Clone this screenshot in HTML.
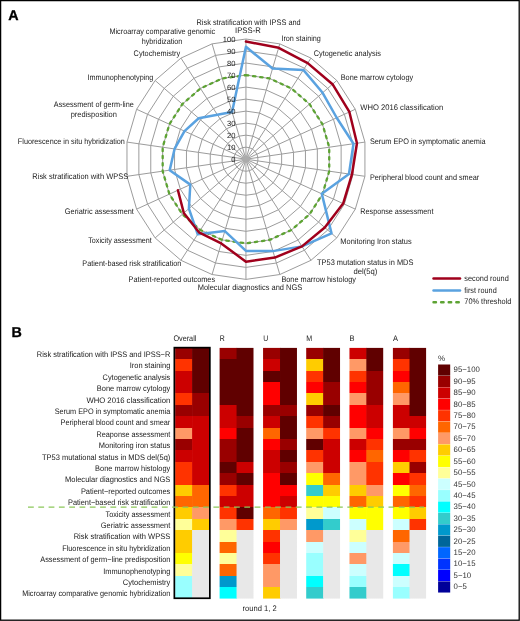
<!DOCTYPE html>
<html><head><meta charset="utf-8"><style>
html,body{margin:0;padding:0;background:#fff;}
body{width:520px;height:621px;overflow:hidden;}
svg{display:block;will-change:transform;}
text{font-family:"Liberation Sans",sans-serif;fill:#1a1a1a;text-rendering:geometricPrecision;}
.l{font-size:8.1px;}
.s{font-size:7.6px;}
.h{font-size:8.0px;}
.k{font-size:8.0px;fill:#333;}
.p{font-size:14.3px;font-weight:bold;fill:#000;stroke:#000;stroke-width:0.3px;}
</style></head><body>
<svg width="520" height="621" viewBox="0 0 520 621">
<defs><linearGradient id="g00" x1="0" y1="0" x2="0" y2="1"><stop offset="0.00000" stop-color="#990000"/><stop offset="0.04545" stop-color="#990000"/><stop offset="0.04545" stop-color="#ff3300"/><stop offset="0.09091" stop-color="#ff3300"/><stop offset="0.09091" stop-color="#cc0000"/><stop offset="0.13636" stop-color="#cc0000"/><stop offset="0.13636" stop-color="#cc0000"/><stop offset="0.18182" stop-color="#cc0000"/><stop offset="0.18182" stop-color="#ff3300"/><stop offset="0.22727" stop-color="#ff3300"/><stop offset="0.22727" stop-color="#990000"/><stop offset="0.27273" stop-color="#990000"/><stop offset="0.27273" stop-color="#cc0000"/><stop offset="0.31818" stop-color="#cc0000"/><stop offset="0.31818" stop-color="#ff9966"/><stop offset="0.36364" stop-color="#ff9966"/><stop offset="0.36364" stop-color="#990000"/><stop offset="0.40909" stop-color="#990000"/><stop offset="0.40909" stop-color="#cc0000"/><stop offset="0.45455" stop-color="#cc0000"/><stop offset="0.45455" stop-color="#ff3300"/><stop offset="0.50000" stop-color="#ff3300"/><stop offset="0.50000" stop-color="#ff3300"/><stop offset="0.54545" stop-color="#ff3300"/><stop offset="0.54545" stop-color="#ffcc00"/><stop offset="0.59091" stop-color="#ffcc00"/><stop offset="0.59091" stop-color="#ff6600"/><stop offset="0.63636" stop-color="#ff6600"/><stop offset="0.63636" stop-color="#ffcc00"/><stop offset="0.68182" stop-color="#ffcc00"/><stop offset="0.68182" stop-color="#ffff99"/><stop offset="0.72727" stop-color="#ffff99"/><stop offset="0.72727" stop-color="#ffcc00"/><stop offset="0.77273" stop-color="#ffcc00"/><stop offset="0.77273" stop-color="#ffcc00"/><stop offset="0.81818" stop-color="#ffcc00"/><stop offset="0.81818" stop-color="#ffff00"/><stop offset="0.86364" stop-color="#ffff00"/><stop offset="0.86364" stop-color="#ffff99"/><stop offset="0.90909" stop-color="#ffff99"/><stop offset="0.90909" stop-color="#99ffff"/><stop offset="0.95455" stop-color="#99ffff"/><stop offset="0.95455" stop-color="#99ffff"/><stop offset="1.00000" stop-color="#99ffff"/></linearGradient><linearGradient id="g01" x1="0" y1="0" x2="0" y2="1"><stop offset="0.00000" stop-color="#600000"/><stop offset="0.04545" stop-color="#600000"/><stop offset="0.04545" stop-color="#600000"/><stop offset="0.09091" stop-color="#600000"/><stop offset="0.09091" stop-color="#600000"/><stop offset="0.13636" stop-color="#600000"/><stop offset="0.13636" stop-color="#600000"/><stop offset="0.18182" stop-color="#600000"/><stop offset="0.18182" stop-color="#990000"/><stop offset="0.22727" stop-color="#990000"/><stop offset="0.22727" stop-color="#990000"/><stop offset="0.27273" stop-color="#990000"/><stop offset="0.27273" stop-color="#cc0000"/><stop offset="0.31818" stop-color="#cc0000"/><stop offset="0.31818" stop-color="#cc0000"/><stop offset="0.36364" stop-color="#cc0000"/><stop offset="0.36364" stop-color="#cc0000"/><stop offset="0.40909" stop-color="#cc0000"/><stop offset="0.40909" stop-color="#cc0000"/><stop offset="0.45455" stop-color="#cc0000"/><stop offset="0.45455" stop-color="#cc0000"/><stop offset="0.50000" stop-color="#cc0000"/><stop offset="0.50000" stop-color="#cc0000"/><stop offset="0.54545" stop-color="#cc0000"/><stop offset="0.54545" stop-color="#ff6600"/><stop offset="0.59091" stop-color="#ff6600"/><stop offset="0.59091" stop-color="#ff6600"/><stop offset="0.63636" stop-color="#ff6600"/><stop offset="0.63636" stop-color="#ff9966"/><stop offset="0.68182" stop-color="#ff9966"/><stop offset="0.68182" stop-color="#ffcc00"/><stop offset="0.72727" stop-color="#ffcc00"/><stop offset="0.72727" stop-color="#e8e8e8"/><stop offset="0.77273" stop-color="#e8e8e8"/><stop offset="0.77273" stop-color="#e8e8e8"/><stop offset="0.81818" stop-color="#e8e8e8"/><stop offset="0.81818" stop-color="#e8e8e8"/><stop offset="0.86364" stop-color="#e8e8e8"/><stop offset="0.86364" stop-color="#e8e8e8"/><stop offset="0.90909" stop-color="#e8e8e8"/><stop offset="0.90909" stop-color="#e8e8e8"/><stop offset="0.95455" stop-color="#e8e8e8"/><stop offset="0.95455" stop-color="#e8e8e8"/><stop offset="1.00000" stop-color="#e8e8e8"/></linearGradient><linearGradient id="g10" x1="0" y1="0" x2="0" y2="1"><stop offset="0.00000" stop-color="#990000"/><stop offset="0.04545" stop-color="#990000"/><stop offset="0.04545" stop-color="#600000"/><stop offset="0.09091" stop-color="#600000"/><stop offset="0.09091" stop-color="#600000"/><stop offset="0.13636" stop-color="#600000"/><stop offset="0.13636" stop-color="#600000"/><stop offset="0.18182" stop-color="#600000"/><stop offset="0.18182" stop-color="#600000"/><stop offset="0.22727" stop-color="#600000"/><stop offset="0.22727" stop-color="#cc0000"/><stop offset="0.27273" stop-color="#cc0000"/><stop offset="0.27273" stop-color="#cc0000"/><stop offset="0.31818" stop-color="#cc0000"/><stop offset="0.31818" stop-color="#ff0000"/><stop offset="0.36364" stop-color="#ff0000"/><stop offset="0.36364" stop-color="#990000"/><stop offset="0.40909" stop-color="#990000"/><stop offset="0.40909" stop-color="#990000"/><stop offset="0.45455" stop-color="#990000"/><stop offset="0.45455" stop-color="#600000"/><stop offset="0.50000" stop-color="#600000"/><stop offset="0.50000" stop-color="#990000"/><stop offset="0.54545" stop-color="#990000"/><stop offset="0.54545" stop-color="#ff3300"/><stop offset="0.59091" stop-color="#ff3300"/><stop offset="0.59091" stop-color="#cc0000"/><stop offset="0.63636" stop-color="#cc0000"/><stop offset="0.63636" stop-color="#ff3300"/><stop offset="0.68182" stop-color="#ff3300"/><stop offset="0.68182" stop-color="#ff9966"/><stop offset="0.72727" stop-color="#ff9966"/><stop offset="0.72727" stop-color="#ffff99"/><stop offset="0.77273" stop-color="#ffff99"/><stop offset="0.77273" stop-color="#ff6600"/><stop offset="0.81818" stop-color="#ff6600"/><stop offset="0.81818" stop-color="#ffff99"/><stop offset="0.86364" stop-color="#ffff99"/><stop offset="0.86364" stop-color="#ff6600"/><stop offset="0.90909" stop-color="#ff6600"/><stop offset="0.90909" stop-color="#0099cc"/><stop offset="0.95455" stop-color="#0099cc"/><stop offset="0.95455" stop-color="#00ffff"/><stop offset="1.00000" stop-color="#00ffff"/></linearGradient><linearGradient id="g11" x1="0" y1="0" x2="0" y2="1"><stop offset="0.00000" stop-color="#600000"/><stop offset="0.04545" stop-color="#600000"/><stop offset="0.04545" stop-color="#600000"/><stop offset="0.09091" stop-color="#600000"/><stop offset="0.09091" stop-color="#600000"/><stop offset="0.13636" stop-color="#600000"/><stop offset="0.13636" stop-color="#600000"/><stop offset="0.18182" stop-color="#600000"/><stop offset="0.18182" stop-color="#600000"/><stop offset="0.22727" stop-color="#600000"/><stop offset="0.22727" stop-color="#600000"/><stop offset="0.27273" stop-color="#600000"/><stop offset="0.27273" stop-color="#990000"/><stop offset="0.31818" stop-color="#990000"/><stop offset="0.31818" stop-color="#600000"/><stop offset="0.36364" stop-color="#600000"/><stop offset="0.36364" stop-color="#600000"/><stop offset="0.40909" stop-color="#600000"/><stop offset="0.40909" stop-color="#600000"/><stop offset="0.45455" stop-color="#600000"/><stop offset="0.45455" stop-color="#cc0000"/><stop offset="0.50000" stop-color="#cc0000"/><stop offset="0.50000" stop-color="#600000"/><stop offset="0.54545" stop-color="#600000"/><stop offset="0.54545" stop-color="#cc0000"/><stop offset="0.59091" stop-color="#cc0000"/><stop offset="0.59091" stop-color="#cc0000"/><stop offset="0.63636" stop-color="#cc0000"/><stop offset="0.63636" stop-color="#600000"/><stop offset="0.68182" stop-color="#600000"/><stop offset="0.68182" stop-color="#ff3300"/><stop offset="0.72727" stop-color="#ff3300"/><stop offset="0.72727" stop-color="#e8e8e8"/><stop offset="0.77273" stop-color="#e8e8e8"/><stop offset="0.77273" stop-color="#e8e8e8"/><stop offset="0.81818" stop-color="#e8e8e8"/><stop offset="0.81818" stop-color="#e8e8e8"/><stop offset="0.86364" stop-color="#e8e8e8"/><stop offset="0.86364" stop-color="#e8e8e8"/><stop offset="0.90909" stop-color="#e8e8e8"/><stop offset="0.90909" stop-color="#e8e8e8"/><stop offset="0.95455" stop-color="#e8e8e8"/><stop offset="0.95455" stop-color="#e8e8e8"/><stop offset="1.00000" stop-color="#e8e8e8"/></linearGradient><linearGradient id="g20" x1="0" y1="0" x2="0" y2="1"><stop offset="0.00000" stop-color="#990000"/><stop offset="0.04545" stop-color="#990000"/><stop offset="0.04545" stop-color="#cc0000"/><stop offset="0.09091" stop-color="#cc0000"/><stop offset="0.09091" stop-color="#600000"/><stop offset="0.13636" stop-color="#600000"/><stop offset="0.13636" stop-color="#ff0000"/><stop offset="0.18182" stop-color="#ff0000"/><stop offset="0.18182" stop-color="#ff0000"/><stop offset="0.22727" stop-color="#ff0000"/><stop offset="0.22727" stop-color="#990000"/><stop offset="0.27273" stop-color="#990000"/><stop offset="0.27273" stop-color="#cc0000"/><stop offset="0.31818" stop-color="#cc0000"/><stop offset="0.31818" stop-color="#ff6600"/><stop offset="0.36364" stop-color="#ff6600"/><stop offset="0.36364" stop-color="#ff0000"/><stop offset="0.40909" stop-color="#ff0000"/><stop offset="0.40909" stop-color="#cc0000"/><stop offset="0.45455" stop-color="#cc0000"/><stop offset="0.45455" stop-color="#cc0000"/><stop offset="0.50000" stop-color="#cc0000"/><stop offset="0.50000" stop-color="#ff0000"/><stop offset="0.54545" stop-color="#ff0000"/><stop offset="0.54545" stop-color="#ff0000"/><stop offset="0.59091" stop-color="#ff0000"/><stop offset="0.59091" stop-color="#ff0000"/><stop offset="0.63636" stop-color="#ff0000"/><stop offset="0.63636" stop-color="#ff6600"/><stop offset="0.68182" stop-color="#ff6600"/><stop offset="0.68182" stop-color="#ffcc00"/><stop offset="0.72727" stop-color="#ffcc00"/><stop offset="0.72727" stop-color="#ff3300"/><stop offset="0.77273" stop-color="#ff3300"/><stop offset="0.77273" stop-color="#ff0000"/><stop offset="0.81818" stop-color="#ff0000"/><stop offset="0.81818" stop-color="#ff3300"/><stop offset="0.86364" stop-color="#ff3300"/><stop offset="0.86364" stop-color="#ff9966"/><stop offset="0.90909" stop-color="#ff9966"/><stop offset="0.90909" stop-color="#ff9966"/><stop offset="0.95455" stop-color="#ff9966"/><stop offset="0.95455" stop-color="#ffcc00"/><stop offset="1.00000" stop-color="#ffcc00"/></linearGradient><linearGradient id="g21" x1="0" y1="0" x2="0" y2="1"><stop offset="0.00000" stop-color="#600000"/><stop offset="0.04545" stop-color="#600000"/><stop offset="0.04545" stop-color="#600000"/><stop offset="0.09091" stop-color="#600000"/><stop offset="0.09091" stop-color="#600000"/><stop offset="0.13636" stop-color="#600000"/><stop offset="0.13636" stop-color="#600000"/><stop offset="0.18182" stop-color="#600000"/><stop offset="0.18182" stop-color="#600000"/><stop offset="0.22727" stop-color="#600000"/><stop offset="0.22727" stop-color="#990000"/><stop offset="0.27273" stop-color="#990000"/><stop offset="0.27273" stop-color="#600000"/><stop offset="0.31818" stop-color="#600000"/><stop offset="0.31818" stop-color="#600000"/><stop offset="0.36364" stop-color="#600000"/><stop offset="0.36364" stop-color="#990000"/><stop offset="0.40909" stop-color="#990000"/><stop offset="0.40909" stop-color="#600000"/><stop offset="0.45455" stop-color="#600000"/><stop offset="0.45455" stop-color="#990000"/><stop offset="0.50000" stop-color="#990000"/><stop offset="0.50000" stop-color="#600000"/><stop offset="0.54545" stop-color="#600000"/><stop offset="0.54545" stop-color="#ff0000"/><stop offset="0.59091" stop-color="#ff0000"/><stop offset="0.59091" stop-color="#cc0000"/><stop offset="0.63636" stop-color="#cc0000"/><stop offset="0.63636" stop-color="#ff3300"/><stop offset="0.68182" stop-color="#ff3300"/><stop offset="0.68182" stop-color="#ff9966"/><stop offset="0.72727" stop-color="#ff9966"/><stop offset="0.72727" stop-color="#e8e8e8"/><stop offset="0.77273" stop-color="#e8e8e8"/><stop offset="0.77273" stop-color="#e8e8e8"/><stop offset="0.81818" stop-color="#e8e8e8"/><stop offset="0.81818" stop-color="#e8e8e8"/><stop offset="0.86364" stop-color="#e8e8e8"/><stop offset="0.86364" stop-color="#e8e8e8"/><stop offset="0.90909" stop-color="#e8e8e8"/><stop offset="0.90909" stop-color="#e8e8e8"/><stop offset="0.95455" stop-color="#e8e8e8"/><stop offset="0.95455" stop-color="#e8e8e8"/><stop offset="1.00000" stop-color="#e8e8e8"/></linearGradient><linearGradient id="g30" x1="0" y1="0" x2="0" y2="1"><stop offset="0.00000" stop-color="#990000"/><stop offset="0.04545" stop-color="#990000"/><stop offset="0.04545" stop-color="#ffcc00"/><stop offset="0.09091" stop-color="#ffcc00"/><stop offset="0.09091" stop-color="#ff3300"/><stop offset="0.13636" stop-color="#ff3300"/><stop offset="0.13636" stop-color="#ff0000"/><stop offset="0.18182" stop-color="#ff0000"/><stop offset="0.18182" stop-color="#ffcc00"/><stop offset="0.22727" stop-color="#ffcc00"/><stop offset="0.22727" stop-color="#990000"/><stop offset="0.27273" stop-color="#990000"/><stop offset="0.27273" stop-color="#ff3300"/><stop offset="0.31818" stop-color="#ff3300"/><stop offset="0.31818" stop-color="#ff9966"/><stop offset="0.36364" stop-color="#ff9966"/><stop offset="0.36364" stop-color="#600000"/><stop offset="0.40909" stop-color="#600000"/><stop offset="0.40909" stop-color="#ff3300"/><stop offset="0.45455" stop-color="#ff3300"/><stop offset="0.45455" stop-color="#ff9966"/><stop offset="0.50000" stop-color="#ff9966"/><stop offset="0.50000" stop-color="#ffff00"/><stop offset="0.54545" stop-color="#ffff00"/><stop offset="0.54545" stop-color="#33cccc"/><stop offset="0.59091" stop-color="#33cccc"/><stop offset="0.59091" stop-color="#ffff00"/><stop offset="0.63636" stop-color="#ffff00"/><stop offset="0.63636" stop-color="#ffff99"/><stop offset="0.68182" stop-color="#ffff99"/><stop offset="0.68182" stop-color="#0099cc"/><stop offset="0.72727" stop-color="#0099cc"/><stop offset="0.72727" stop-color="#ff9966"/><stop offset="0.77273" stop-color="#ff9966"/><stop offset="0.77273" stop-color="#ccffff"/><stop offset="0.81818" stop-color="#ccffff"/><stop offset="0.81818" stop-color="#99ffff"/><stop offset="0.86364" stop-color="#99ffff"/><stop offset="0.86364" stop-color="#99ffff"/><stop offset="0.90909" stop-color="#99ffff"/><stop offset="0.90909" stop-color="#00ffff"/><stop offset="0.95455" stop-color="#00ffff"/><stop offset="0.95455" stop-color="#33cccc"/><stop offset="1.00000" stop-color="#33cccc"/></linearGradient><linearGradient id="g31" x1="0" y1="0" x2="0" y2="1"><stop offset="0.00000" stop-color="#600000"/><stop offset="0.04545" stop-color="#600000"/><stop offset="0.04545" stop-color="#600000"/><stop offset="0.09091" stop-color="#600000"/><stop offset="0.09091" stop-color="#600000"/><stop offset="0.13636" stop-color="#600000"/><stop offset="0.13636" stop-color="#990000"/><stop offset="0.18182" stop-color="#990000"/><stop offset="0.18182" stop-color="#990000"/><stop offset="0.22727" stop-color="#990000"/><stop offset="0.22727" stop-color="#600000"/><stop offset="0.27273" stop-color="#600000"/><stop offset="0.27273" stop-color="#990000"/><stop offset="0.31818" stop-color="#990000"/><stop offset="0.31818" stop-color="#ff3300"/><stop offset="0.36364" stop-color="#ff3300"/><stop offset="0.36364" stop-color="#cc0000"/><stop offset="0.40909" stop-color="#cc0000"/><stop offset="0.40909" stop-color="#cc0000"/><stop offset="0.45455" stop-color="#cc0000"/><stop offset="0.45455" stop-color="#cc0000"/><stop offset="0.50000" stop-color="#cc0000"/><stop offset="0.50000" stop-color="#ff6600"/><stop offset="0.54545" stop-color="#ff6600"/><stop offset="0.54545" stop-color="#ffcc00"/><stop offset="0.59091" stop-color="#ffcc00"/><stop offset="0.59091" stop-color="#ffff00"/><stop offset="0.63636" stop-color="#ffff00"/><stop offset="0.63636" stop-color="#ccffff"/><stop offset="0.68182" stop-color="#ccffff"/><stop offset="0.68182" stop-color="#33cccc"/><stop offset="0.72727" stop-color="#33cccc"/><stop offset="0.72727" stop-color="#e8e8e8"/><stop offset="0.77273" stop-color="#e8e8e8"/><stop offset="0.77273" stop-color="#e8e8e8"/><stop offset="0.81818" stop-color="#e8e8e8"/><stop offset="0.81818" stop-color="#e8e8e8"/><stop offset="0.86364" stop-color="#e8e8e8"/><stop offset="0.86364" stop-color="#e8e8e8"/><stop offset="0.90909" stop-color="#e8e8e8"/><stop offset="0.90909" stop-color="#e8e8e8"/><stop offset="0.95455" stop-color="#e8e8e8"/><stop offset="0.95455" stop-color="#e8e8e8"/><stop offset="1.00000" stop-color="#e8e8e8"/></linearGradient><linearGradient id="g40" x1="0" y1="0" x2="0" y2="1"><stop offset="0.00000" stop-color="#cc0000"/><stop offset="0.04545" stop-color="#cc0000"/><stop offset="0.04545" stop-color="#ff9966"/><stop offset="0.09091" stop-color="#ff9966"/><stop offset="0.09091" stop-color="#ff3300"/><stop offset="0.13636" stop-color="#ff3300"/><stop offset="0.13636" stop-color="#ff0000"/><stop offset="0.18182" stop-color="#ff0000"/><stop offset="0.18182" stop-color="#ff9966"/><stop offset="0.22727" stop-color="#ff9966"/><stop offset="0.22727" stop-color="#ff0000"/><stop offset="0.27273" stop-color="#ff0000"/><stop offset="0.27273" stop-color="#ff0000"/><stop offset="0.31818" stop-color="#ff0000"/><stop offset="0.31818" stop-color="#ff9966"/><stop offset="0.36364" stop-color="#ff9966"/><stop offset="0.36364" stop-color="#cc0000"/><stop offset="0.40909" stop-color="#cc0000"/><stop offset="0.40909" stop-color="#ff0000"/><stop offset="0.45455" stop-color="#ff0000"/><stop offset="0.45455" stop-color="#ff9966"/><stop offset="0.50000" stop-color="#ff9966"/><stop offset="0.50000" stop-color="#ff9966"/><stop offset="0.54545" stop-color="#ff9966"/><stop offset="0.54545" stop-color="#ffcc00"/><stop offset="0.59091" stop-color="#ffcc00"/><stop offset="0.59091" stop-color="#ff6600"/><stop offset="0.63636" stop-color="#ff6600"/><stop offset="0.63636" stop-color="#ffff00"/><stop offset="0.68182" stop-color="#ffff00"/><stop offset="0.68182" stop-color="#ccffff"/><stop offset="0.72727" stop-color="#ccffff"/><stop offset="0.72727" stop-color="#ffff99"/><stop offset="0.77273" stop-color="#ffff99"/><stop offset="0.77273" stop-color="#ccffff"/><stop offset="0.81818" stop-color="#ccffff"/><stop offset="0.81818" stop-color="#ff9966"/><stop offset="0.86364" stop-color="#ff9966"/><stop offset="0.86364" stop-color="#ccffff"/><stop offset="0.90909" stop-color="#ccffff"/><stop offset="0.90909" stop-color="#99ffff"/><stop offset="0.95455" stop-color="#99ffff"/><stop offset="0.95455" stop-color="#33cccc"/><stop offset="1.00000" stop-color="#33cccc"/></linearGradient><linearGradient id="g41" x1="0" y1="0" x2="0" y2="1"><stop offset="0.00000" stop-color="#600000"/><stop offset="0.04545" stop-color="#600000"/><stop offset="0.04545" stop-color="#600000"/><stop offset="0.09091" stop-color="#600000"/><stop offset="0.09091" stop-color="#990000"/><stop offset="0.13636" stop-color="#990000"/><stop offset="0.13636" stop-color="#990000"/><stop offset="0.18182" stop-color="#990000"/><stop offset="0.18182" stop-color="#990000"/><stop offset="0.22727" stop-color="#990000"/><stop offset="0.22727" stop-color="#cc0000"/><stop offset="0.27273" stop-color="#cc0000"/><stop offset="0.27273" stop-color="#cc0000"/><stop offset="0.31818" stop-color="#cc0000"/><stop offset="0.31818" stop-color="#ff0000"/><stop offset="0.36364" stop-color="#ff0000"/><stop offset="0.36364" stop-color="#ff3300"/><stop offset="0.40909" stop-color="#ff3300"/><stop offset="0.40909" stop-color="#ff6600"/><stop offset="0.45455" stop-color="#ff6600"/><stop offset="0.45455" stop-color="#ff3300"/><stop offset="0.50000" stop-color="#ff3300"/><stop offset="0.50000" stop-color="#ff3300"/><stop offset="0.54545" stop-color="#ff3300"/><stop offset="0.54545" stop-color="#ff9966"/><stop offset="0.59091" stop-color="#ff9966"/><stop offset="0.59091" stop-color="#ffcc00"/><stop offset="0.63636" stop-color="#ffcc00"/><stop offset="0.63636" stop-color="#ffff00"/><stop offset="0.68182" stop-color="#ffff00"/><stop offset="0.68182" stop-color="#ffff00"/><stop offset="0.72727" stop-color="#ffff00"/><stop offset="0.72727" stop-color="#e8e8e8"/><stop offset="0.77273" stop-color="#e8e8e8"/><stop offset="0.77273" stop-color="#e8e8e8"/><stop offset="0.81818" stop-color="#e8e8e8"/><stop offset="0.81818" stop-color="#e8e8e8"/><stop offset="0.86364" stop-color="#e8e8e8"/><stop offset="0.86364" stop-color="#e8e8e8"/><stop offset="0.90909" stop-color="#e8e8e8"/><stop offset="0.90909" stop-color="#e8e8e8"/><stop offset="0.95455" stop-color="#e8e8e8"/><stop offset="0.95455" stop-color="#e8e8e8"/><stop offset="1.00000" stop-color="#e8e8e8"/></linearGradient><linearGradient id="g50" x1="0" y1="0" x2="0" y2="1"><stop offset="0.00000" stop-color="#990000"/><stop offset="0.04545" stop-color="#990000"/><stop offset="0.04545" stop-color="#ff3300"/><stop offset="0.09091" stop-color="#ff3300"/><stop offset="0.09091" stop-color="#ff0000"/><stop offset="0.13636" stop-color="#ff0000"/><stop offset="0.13636" stop-color="#ff6600"/><stop offset="0.18182" stop-color="#ff6600"/><stop offset="0.18182" stop-color="#ff9966"/><stop offset="0.22727" stop-color="#ff9966"/><stop offset="0.22727" stop-color="#cc0000"/><stop offset="0.27273" stop-color="#cc0000"/><stop offset="0.27273" stop-color="#cc0000"/><stop offset="0.31818" stop-color="#cc0000"/><stop offset="0.31818" stop-color="#ff9966"/><stop offset="0.36364" stop-color="#ff9966"/><stop offset="0.36364" stop-color="#990000"/><stop offset="0.40909" stop-color="#990000"/><stop offset="0.40909" stop-color="#ff0000"/><stop offset="0.45455" stop-color="#ff0000"/><stop offset="0.45455" stop-color="#ffcc00"/><stop offset="0.50000" stop-color="#ffcc00"/><stop offset="0.50000" stop-color="#ff0000"/><stop offset="0.54545" stop-color="#ff0000"/><stop offset="0.54545" stop-color="#ffff00"/><stop offset="0.59091" stop-color="#ffff00"/><stop offset="0.59091" stop-color="#ff6600"/><stop offset="0.63636" stop-color="#ff6600"/><stop offset="0.63636" stop-color="#ffff00"/><stop offset="0.68182" stop-color="#ffff00"/><stop offset="0.68182" stop-color="#ccffff"/><stop offset="0.72727" stop-color="#ccffff"/><stop offset="0.72727" stop-color="#ff6600"/><stop offset="0.77273" stop-color="#ff6600"/><stop offset="0.77273" stop-color="#ff9966"/><stop offset="0.81818" stop-color="#ff9966"/><stop offset="0.81818" stop-color="#ccffff"/><stop offset="0.86364" stop-color="#ccffff"/><stop offset="0.86364" stop-color="#00ffff"/><stop offset="0.90909" stop-color="#00ffff"/><stop offset="0.90909" stop-color="#ccffff"/><stop offset="0.95455" stop-color="#ccffff"/><stop offset="0.95455" stop-color="#99ffff"/><stop offset="1.00000" stop-color="#99ffff"/></linearGradient><linearGradient id="g51" x1="0" y1="0" x2="0" y2="1"><stop offset="0.00000" stop-color="#600000"/><stop offset="0.04545" stop-color="#600000"/><stop offset="0.04545" stop-color="#600000"/><stop offset="0.09091" stop-color="#600000"/><stop offset="0.09091" stop-color="#600000"/><stop offset="0.13636" stop-color="#600000"/><stop offset="0.13636" stop-color="#600000"/><stop offset="0.18182" stop-color="#600000"/><stop offset="0.18182" stop-color="#600000"/><stop offset="0.22727" stop-color="#600000"/><stop offset="0.22727" stop-color="#600000"/><stop offset="0.27273" stop-color="#600000"/><stop offset="0.27273" stop-color="#cc0000"/><stop offset="0.31818" stop-color="#cc0000"/><stop offset="0.31818" stop-color="#ff0000"/><stop offset="0.36364" stop-color="#ff0000"/><stop offset="0.36364" stop-color="#990000"/><stop offset="0.40909" stop-color="#990000"/><stop offset="0.40909" stop-color="#ff3300"/><stop offset="0.45455" stop-color="#ff3300"/><stop offset="0.45455" stop-color="#990000"/><stop offset="0.50000" stop-color="#990000"/><stop offset="0.50000" stop-color="#ff3300"/><stop offset="0.54545" stop-color="#ff3300"/><stop offset="0.54545" stop-color="#ff6600"/><stop offset="0.59091" stop-color="#ff6600"/><stop offset="0.59091" stop-color="#ff3300"/><stop offset="0.63636" stop-color="#ff3300"/><stop offset="0.63636" stop-color="#ffcc00"/><stop offset="0.68182" stop-color="#ffcc00"/><stop offset="0.68182" stop-color="#ff3300"/><stop offset="0.72727" stop-color="#ff3300"/><stop offset="0.72727" stop-color="#e8e8e8"/><stop offset="0.77273" stop-color="#e8e8e8"/><stop offset="0.77273" stop-color="#e8e8e8"/><stop offset="0.81818" stop-color="#e8e8e8"/><stop offset="0.81818" stop-color="#e8e8e8"/><stop offset="0.86364" stop-color="#e8e8e8"/><stop offset="0.86364" stop-color="#e8e8e8"/><stop offset="0.90909" stop-color="#e8e8e8"/><stop offset="0.90909" stop-color="#e8e8e8"/><stop offset="0.95455" stop-color="#e8e8e8"/><stop offset="0.95455" stop-color="#e8e8e8"/><stop offset="1.00000" stop-color="#e8e8e8"/></linearGradient></defs>
<rect x="0" y="0" width="520" height="621" fill="#fff"/>
<polygon points="245.95,147.18 249.34,147.67 252.45,149.09 255.03,151.33 256.88,154.21 257.85,157.49 257.85,160.91 256.88,164.19 255.03,167.07 252.45,169.31 249.34,170.73 245.95,171.22 242.56,170.73 239.45,169.31 236.87,167.07 235.02,164.19 234.05,160.91 234.05,157.49 235.02,154.21 236.87,151.33 239.45,149.09 242.56,147.67" fill="none" stroke="#9c9c9c" stroke-width="1.0"/>
<polygon points="245.95,135.16 252.72,136.13 258.95,138.98 264.12,143.46 267.82,149.21 269.75,155.78 269.75,162.62 267.82,169.19 264.12,174.94 258.95,179.42 252.72,182.27 245.95,183.24 239.18,182.27 232.95,179.42 227.78,174.94 224.08,169.19 222.15,162.62 222.15,155.78 224.08,149.21 227.78,143.46 232.95,138.98 239.18,136.13" fill="none" stroke="#9c9c9c" stroke-width="1.0"/>
<polygon points="245.95,123.14 256.11,124.60 265.45,128.86 273.20,135.59 278.75,144.22 281.64,154.07 281.64,164.33 278.75,174.18 273.20,182.81 265.45,189.54 256.11,193.80 245.95,195.26 235.79,193.80 226.45,189.54 218.70,182.81 213.15,174.18 210.26,164.33 210.26,154.07 213.15,144.22 218.70,135.59 226.45,128.86 235.79,124.60" fill="none" stroke="#9c9c9c" stroke-width="1.0"/>
<polygon points="245.95,111.12 259.50,113.07 271.94,118.75 282.29,127.71 289.69,139.23 293.54,152.36 293.54,166.04 289.69,179.17 282.29,190.69 271.94,199.65 259.50,205.33 245.95,207.28 232.40,205.33 219.96,199.65 209.61,190.69 202.21,179.17 198.36,166.04 198.36,152.36 202.21,139.23 209.61,127.71 219.96,118.75 232.40,113.07" fill="none" stroke="#9c9c9c" stroke-width="1.0"/>
<polygon points="245.95,99.10 262.88,101.53 278.44,108.64 291.37,119.84 300.62,134.23 305.44,150.65 305.44,167.75 300.62,184.17 291.37,198.56 278.44,209.76 262.88,216.87 245.95,219.30 229.02,216.87 213.46,209.76 200.53,198.56 191.28,184.17 186.46,167.75 186.46,150.65 191.28,134.23 200.53,119.84 213.46,108.64 229.02,101.53" fill="none" stroke="#9c9c9c" stroke-width="1.0"/>
<polygon points="245.95,87.08 266.27,90.00 284.94,98.53 300.45,111.97 311.55,129.24 317.34,148.94 317.34,169.46 311.55,189.16 300.45,206.43 284.94,219.87 266.27,228.40 245.95,231.32 225.63,228.40 206.96,219.87 191.45,206.43 180.35,189.16 174.56,169.46 174.56,148.94 180.35,129.24 191.45,111.97 206.96,98.53 225.63,90.00" fill="none" stroke="#9c9c9c" stroke-width="1.0"/>
<polygon points="245.95,75.06 269.65,78.47 291.44,88.42 309.54,104.10 322.49,124.25 329.23,147.23 329.23,171.17 322.49,194.15 309.54,214.30 291.44,229.98 269.65,239.93 245.95,243.34 222.25,239.93 200.46,229.98 182.36,214.30 169.41,194.15 162.67,171.17 162.67,147.23 169.41,124.25 182.36,104.10 200.46,88.42 222.25,78.47" fill="none" stroke="#9c9c9c" stroke-width="1.0"/>
<polygon points="245.95,63.04 273.04,66.94 297.94,78.31 318.62,96.23 333.42,119.25 341.13,145.52 341.13,172.88 333.42,199.15 318.62,222.17 297.94,240.09 273.04,251.46 245.95,255.36 218.86,251.46 193.96,240.09 173.28,222.17 158.48,199.15 150.77,172.88 150.77,145.52 158.48,119.25 173.28,96.23 193.96,78.31 218.86,66.94" fill="none" stroke="#9c9c9c" stroke-width="1.0"/>
<polygon points="245.95,51.02 276.43,55.40 304.44,68.19 327.71,88.36 344.35,114.26 353.03,143.80 353.03,174.60 344.35,204.14 327.71,230.04 304.44,250.21 276.43,263.00 245.95,267.38 215.47,263.00 187.46,250.21 164.19,230.04 147.55,204.14 138.87,174.60 138.87,143.80 147.55,114.26 164.19,88.36 187.46,68.19 215.47,55.40" fill="none" stroke="#9c9c9c" stroke-width="1.0"/>
<polygon points="245.95,39.00 279.81,43.87 310.94,58.08 336.79,80.49 355.29,109.27 364.93,142.09 364.93,176.31 355.29,209.13 336.79,237.91 310.94,260.32 279.81,274.53 245.95,279.40 212.09,274.53 180.96,260.32 155.11,237.91 136.61,209.13 126.97,176.31 126.97,142.09 136.61,109.27 155.11,80.49 180.96,58.08 212.09,43.87" fill="none" stroke="#9c9c9c" stroke-width="1.0"/>
<line x1="245.95" y1="159.2" x2="245.95" y2="39.00" stroke="#9c9c9c" stroke-width="1.0"/>
<line x1="245.95" y1="159.2" x2="279.81" y2="43.87" stroke="#9c9c9c" stroke-width="1.0"/>
<line x1="245.95" y1="159.2" x2="310.94" y2="58.08" stroke="#9c9c9c" stroke-width="1.0"/>
<line x1="245.95" y1="159.2" x2="336.79" y2="80.49" stroke="#9c9c9c" stroke-width="1.0"/>
<line x1="245.95" y1="159.2" x2="355.29" y2="109.27" stroke="#9c9c9c" stroke-width="1.0"/>
<line x1="245.95" y1="159.2" x2="364.93" y2="142.09" stroke="#9c9c9c" stroke-width="1.0"/>
<line x1="245.95" y1="159.2" x2="364.93" y2="176.31" stroke="#9c9c9c" stroke-width="1.0"/>
<line x1="245.95" y1="159.2" x2="355.29" y2="209.13" stroke="#9c9c9c" stroke-width="1.0"/>
<line x1="245.95" y1="159.2" x2="336.79" y2="237.91" stroke="#9c9c9c" stroke-width="1.0"/>
<line x1="245.95" y1="159.2" x2="310.94" y2="260.32" stroke="#9c9c9c" stroke-width="1.0"/>
<line x1="245.95" y1="159.2" x2="279.81" y2="274.53" stroke="#9c9c9c" stroke-width="1.0"/>
<line x1="245.95" y1="159.2" x2="245.95" y2="279.40" stroke="#9c9c9c" stroke-width="1.0"/>
<line x1="245.95" y1="159.2" x2="212.09" y2="274.53" stroke="#9c9c9c" stroke-width="1.0"/>
<line x1="245.95" y1="159.2" x2="180.96" y2="260.32" stroke="#9c9c9c" stroke-width="1.0"/>
<line x1="245.95" y1="159.2" x2="155.11" y2="237.91" stroke="#9c9c9c" stroke-width="1.0"/>
<line x1="245.95" y1="159.2" x2="136.61" y2="209.13" stroke="#9c9c9c" stroke-width="1.0"/>
<line x1="245.95" y1="159.2" x2="126.97" y2="176.31" stroke="#9c9c9c" stroke-width="1.0"/>
<line x1="245.95" y1="159.2" x2="126.97" y2="142.09" stroke="#9c9c9c" stroke-width="1.0"/>
<line x1="245.95" y1="159.2" x2="136.61" y2="109.27" stroke="#9c9c9c" stroke-width="1.0"/>
<line x1="245.95" y1="159.2" x2="155.11" y2="80.49" stroke="#9c9c9c" stroke-width="1.0"/>
<line x1="245.95" y1="159.2" x2="180.96" y2="58.08" stroke="#9c9c9c" stroke-width="1.0"/>
<line x1="245.95" y1="159.2" x2="212.09" y2="43.87" stroke="#9c9c9c" stroke-width="1.0"/>
<circle cx="245.95" cy="159.2" r="3.6" fill="#ababab"/>
<polygon points="245.95,75.06 269.65,78.47 291.44,88.42 309.54,104.10 322.49,124.25 329.23,147.23 329.23,171.17 322.49,194.15 309.54,214.30 291.44,229.98 269.65,239.93 245.95,243.34 222.25,239.93 200.46,229.98 182.36,214.30 169.41,194.15 162.67,171.17 162.67,147.23 169.41,124.25 182.36,104.10 200.46,88.42 222.25,78.47" fill="none" stroke="#5da333" stroke-width="2.3" stroke-dasharray="2.4 4.8" stroke-linecap="round"/>
<polygon points="245.95,46.81 272.57,68.55 303.33,69.91 322.62,92.77 336.70,117.76 353.50,143.74 348.98,174.01 321.83,193.85 331.52,233.35 301.97,246.36 272.94,251.12 245.95,250.91 224.85,231.05 197.73,234.23 188.90,208.63 190.30,184.62 169.69,170.17 174.56,148.94 184.50,131.14 198.71,118.27 217.36,114.71 232.07,111.91" fill="none" stroke="#5aa2e0" stroke-width="2.5" stroke-linejoin="round"/>
<polyline points="245.95,41.52 278.66,47.79 307.69,63.14 332.52,84.19 349.38,111.96 356.96,143.24 351.96,174.44 343.15,203.59 324.80,227.52 301.97,246.36 274.84,257.58 245.95,261.73 221.23,243.39 198.97,232.31 183.81,213.04 177.94,190.26" fill="none" stroke="#a0001c" stroke-width="2.5" stroke-linejoin="round" stroke-linecap="round"/>
<text x="235.45" y="162.40" text-anchor="end" class="s">0</text>
<text x="235.45" y="150.38" text-anchor="end" class="s">10</text>
<text x="235.45" y="138.36" text-anchor="end" class="s">20</text>
<text x="235.45" y="126.34" text-anchor="end" class="s">30</text>
<text x="235.45" y="114.32" text-anchor="end" class="s">40</text>
<text x="235.45" y="102.30" text-anchor="end" class="s">50</text>
<text x="235.45" y="90.28" text-anchor="end" class="s">60</text>
<text x="235.45" y="78.26" text-anchor="end" class="s">70</text>
<text x="235.45" y="66.24" text-anchor="end" class="s">80</text>
<text x="235.45" y="54.22" text-anchor="end" class="s">90</text>
<text x="235.45" y="42.20" text-anchor="end" class="s">100</text>
<text x="196.50" y="24.8" class="l" textLength="104.20" lengthAdjust="spacingAndGlyphs">Risk stratification with IPSS and</text>
<text x="235.10" y="32.9" class="l" textLength="25.70" lengthAdjust="spacingAndGlyphs">IPSS-R</text>
<text x="281.40" y="41.4" class="l" textLength="39.50" lengthAdjust="spacingAndGlyphs">Iron staining</text>
<text x="313.70" y="55.8" class="l" textLength="67.20" lengthAdjust="spacingAndGlyphs">Cytogenetic analysis</text>
<text x="340.70" y="79.7" class="l" textLength="72.50" lengthAdjust="spacingAndGlyphs">Bone marrow cytology</text>
<text x="360.30" y="109.7" class="l" textLength="83.00" lengthAdjust="spacingAndGlyphs">WHO 2016 classification</text>
<text x="369.90" y="144.1" class="l" textLength="115.70" lengthAdjust="spacingAndGlyphs">Serum EPO in symptomatic anemia</text>
<text x="369.90" y="179.8" class="l" textLength="109.30" lengthAdjust="spacingAndGlyphs">Peripheral blood count and smear</text>
<text x="360.35" y="213.5" class="l" textLength="73.05" lengthAdjust="spacingAndGlyphs">Response assessment</text>
<text x="340.35" y="244" class="l" textLength="71.30" lengthAdjust="spacingAndGlyphs">Monitoring Iron status</text>
<text x="317.10" y="264.75" class="l" textLength="96.30" lengthAdjust="spacingAndGlyphs">TP53 mutation status in MDS</text>
<text x="353.50" y="274.1" class="l" textLength="23.90" lengthAdjust="spacingAndGlyphs">del(5q)</text>
<text x="281.40" y="281.6" class="l" textLength="74.60" lengthAdjust="spacingAndGlyphs">Bone marrow histology</text>
<text x="197.70" y="290" class="l" textLength="104.60" lengthAdjust="spacingAndGlyphs">Molecular diagnostics and NGS</text>
<text x="128.60" y="281.6" class="l" textLength="86.50" lengthAdjust="spacingAndGlyphs">Patient-reported outcomes</text>
<text x="82.30" y="266.3" class="l" textLength="99.10" lengthAdjust="spacingAndGlyphs">Patient-based risk stratification</text>
<text x="88.30" y="243.4" class="l" textLength="63.50" lengthAdjust="spacingAndGlyphs">Toxicity assessment</text>
<text x="64.85" y="213.5" class="l" textLength="69.05" lengthAdjust="spacingAndGlyphs">Geriatric assessment</text>
<text x="32.35" y="179" class="l" textLength="95.80" lengthAdjust="spacingAndGlyphs">Risk stratification with WPSS</text>
<text x="17.85" y="143.75" class="l" textLength="107.05" lengthAdjust="spacingAndGlyphs">Fluorescence in situ hybridization</text>
<text x="53.80" y="106.8" class="l" textLength="80.00" lengthAdjust="spacingAndGlyphs">Assessment of germ-line</text>
<text x="70.70" y="116.8" class="l" textLength="46.20" lengthAdjust="spacingAndGlyphs">predisposition</text>
<text x="87.50" y="79.8" class="l" textLength="65.90" lengthAdjust="spacingAndGlyphs">Immunophenotyping</text>
<text x="133.60" y="55.8" class="l" textLength="46.50" lengthAdjust="spacingAndGlyphs">Cytochemistry</text>
<text x="109.40" y="34.4" class="l" textLength="105.80" lengthAdjust="spacingAndGlyphs">Microarray comparative genomic</text>
<text x="141.70" y="44.3" class="l" textLength="40.70" lengthAdjust="spacingAndGlyphs">hybridization</text>
<line x1="433.5" y1="278.45" x2="460.0" y2="278.45" stroke="#a0001c" stroke-width="2.5" stroke-linecap="round"/>
<line x1="433.5" y1="290.4" x2="460.0" y2="290.4" stroke="#5aa2e0" stroke-width="2.5" stroke-linecap="round"/>
<line x1="433.5" y1="302.2" x2="460.0" y2="302.2" stroke="#5da333" stroke-width="2.4" stroke-dasharray="2.5 5.1" stroke-linecap="round"/>
<text x="464.3" y="281.1" class="l" textLength="44.5" lengthAdjust="spacingAndGlyphs">second round</text>
<text x="464.3" y="292.5" class="l" textLength="32.4" lengthAdjust="spacingAndGlyphs">first round</text>
<text x="464.3" y="304.4" class="l" textLength="47.1" lengthAdjust="spacingAndGlyphs">70% threshold</text>
<rect x="175.15" y="347.90" width="17.55" height="250.69" fill="url(#g00)"/>
<rect x="192.10" y="347.90" width="16.95" height="250.69" fill="url(#g01)"/>
<text x="173.4" y="341.2" class="l" textLength="23" lengthAdjust="spacingAndGlyphs">Overall</text>
<rect x="219.60" y="347.90" width="17.55" height="250.69" fill="url(#g10)"/>
<rect x="236.55" y="347.90" width="16.95" height="250.69" fill="url(#g11)"/>
<text x="219.70" y="341.2" class="l" textLength="5.0" lengthAdjust="spacingAndGlyphs">R</text>
<rect x="263.06" y="347.90" width="17.55" height="250.69" fill="url(#g20)"/>
<rect x="280.01" y="347.90" width="16.95" height="250.69" fill="url(#g21)"/>
<text x="263.16" y="341.2" class="l" textLength="5.0" lengthAdjust="spacingAndGlyphs">U</text>
<rect x="306.20" y="347.90" width="17.52" height="250.69" fill="url(#g30)"/>
<rect x="323.12" y="347.90" width="16.92" height="250.69" fill="url(#g31)"/>
<text x="306.30" y="341.2" class="l" textLength="5.9" lengthAdjust="spacingAndGlyphs">M</text>
<rect x="349.46" y="347.90" width="17.47" height="250.69" fill="url(#g40)"/>
<rect x="366.33" y="347.90" width="16.87" height="250.69" fill="url(#g41)"/>
<text x="349.56" y="341.2" class="l" textLength="5.0" lengthAdjust="spacingAndGlyphs">B</text>
<rect x="392.90" y="347.90" width="17.20" height="250.69" fill="url(#g50)"/>
<rect x="409.50" y="347.90" width="16.60" height="250.69" fill="url(#g51)"/>
<text x="393.00" y="341.2" class="l" textLength="5.0" lengthAdjust="spacingAndGlyphs">A</text>
<rect x="174.35" y="347.65" width="35.5" height="250.6" fill="none" stroke="#000" stroke-width="1.7"/>
<text x="36.80" y="357.10" class="h" textLength="133.50" lengthAdjust="spacingAndGlyphs">Risk stratification with IPSS and IPSS−R</text>
<text x="129.70" y="368.49" class="h" textLength="40.60" lengthAdjust="spacingAndGlyphs">Iron staining</text>
<text x="102.60" y="379.89" class="h" textLength="67.70" lengthAdjust="spacingAndGlyphs">Cytogenetic analysis</text>
<text x="96.80" y="391.28" class="h" textLength="73.50" lengthAdjust="spacingAndGlyphs">Bone marrow cytology</text>
<text x="86.40" y="402.68" class="h" textLength="83.90" lengthAdjust="spacingAndGlyphs">WHO 2016 classification</text>
<text x="54.70" y="414.07" class="h" textLength="115.60" lengthAdjust="spacingAndGlyphs">Serum EPO in symptomatic anemia</text>
<text x="60.50" y="425.47" class="h" textLength="109.80" lengthAdjust="spacingAndGlyphs">Peripheral blood count and smear</text>
<text x="96.50" y="436.86" class="h" textLength="73.80" lengthAdjust="spacingAndGlyphs">Reaponse assessment</text>
<text x="98.80" y="448.26" class="h" textLength="71.50" lengthAdjust="spacingAndGlyphs">Monitoring iron status</text>
<text x="42.00" y="459.65" class="h" textLength="128.30" lengthAdjust="spacingAndGlyphs">TP53 mutational status in MDS del(5q)</text>
<text x="95.10" y="471.05" class="h" textLength="75.20" lengthAdjust="spacingAndGlyphs">Bone marrow histology</text>
<text x="65.10" y="482.44" class="h" textLength="105.20" lengthAdjust="spacingAndGlyphs">Molecular diagnostics and NGS</text>
<text x="80.90" y="493.84" class="h" textLength="89.40" lengthAdjust="spacingAndGlyphs">Patient−reported outcomes</text>
<text x="68.00" y="505.23" class="h" textLength="102.30" lengthAdjust="spacingAndGlyphs">Patient−based risk stratification</text>
<text x="105.50" y="516.63" class="h" textLength="64.80" lengthAdjust="spacingAndGlyphs">Toxicity assessment</text>
<text x="100.80" y="528.02" class="h" textLength="69.50" lengthAdjust="spacingAndGlyphs">Geriatric assessment</text>
<text x="73.70" y="539.42" class="h" textLength="96.60" lengthAdjust="spacingAndGlyphs">Risk stratification with WPSS</text>
<text x="62.20" y="550.81" class="h" textLength="108.10" lengthAdjust="spacingAndGlyphs">Fluorescence in situ hybridization</text>
<text x="40.30" y="562.21" class="h" textLength="130.00" lengthAdjust="spacingAndGlyphs">Assessment of germ−line predisposition</text>
<text x="103.20" y="573.60" class="h" textLength="67.10" lengthAdjust="spacingAndGlyphs">Immunophenotyping</text>
<text x="122.80" y="585.00" class="h" textLength="47.50" lengthAdjust="spacingAndGlyphs">Cytochemistry</text>
<text x="22.20" y="596.39" class="h" textLength="148.10" lengthAdjust="spacingAndGlyphs">Microarray comparative genomic hybridization</text>
<line x1="28" y1="507.1" x2="424" y2="507.1" stroke="#8cc85a" stroke-width="1.4" stroke-dasharray="5.8 4.5"/>
<text x="242.5" y="610.6" class="l" textLength="34.1" lengthAdjust="spacingAndGlyphs">round 1, 2</text>
<rect x="438.1" y="364.50" width="12.1" height="11.16" fill="#600000"/>
<text x="453.6" y="372.41" class="k" textLength="26.24" lengthAdjust="spacingAndGlyphs">95−100</text>
<rect x="438.1" y="375.92" width="12.1" height="11.16" fill="#990000"/>
<text x="453.6" y="383.82" class="k" textLength="21.90" lengthAdjust="spacingAndGlyphs">90−95</text>
<rect x="438.1" y="387.33" width="12.1" height="11.16" fill="#cc0000"/>
<text x="453.6" y="395.24" class="k" textLength="21.90" lengthAdjust="spacingAndGlyphs">85−90</text>
<rect x="438.1" y="398.75" width="12.1" height="11.16" fill="#ff0000"/>
<text x="453.6" y="406.65" class="k" textLength="21.90" lengthAdjust="spacingAndGlyphs">80−85</text>
<rect x="438.1" y="410.16" width="12.1" height="11.16" fill="#ff3300"/>
<text x="453.6" y="418.07" class="k" textLength="21.90" lengthAdjust="spacingAndGlyphs">75−80</text>
<rect x="438.1" y="421.57" width="12.1" height="11.16" fill="#ff6600"/>
<text x="453.6" y="429.48" class="k" textLength="21.90" lengthAdjust="spacingAndGlyphs">70−75</text>
<rect x="438.1" y="432.99" width="12.1" height="11.16" fill="#ff9966"/>
<text x="453.6" y="440.90" class="k" textLength="21.90" lengthAdjust="spacingAndGlyphs">65−70</text>
<rect x="438.1" y="444.40" width="12.1" height="11.16" fill="#ffcc00"/>
<text x="453.6" y="452.31" class="k" textLength="21.90" lengthAdjust="spacingAndGlyphs">60−65</text>
<rect x="438.1" y="455.82" width="12.1" height="11.16" fill="#ffff00"/>
<text x="453.6" y="463.73" class="k" textLength="21.90" lengthAdjust="spacingAndGlyphs">55−60</text>
<rect x="438.1" y="467.24" width="12.1" height="11.16" fill="#ffff99"/>
<text x="453.6" y="475.14" class="k" textLength="21.90" lengthAdjust="spacingAndGlyphs">50−55</text>
<rect x="438.1" y="478.65" width="12.1" height="11.16" fill="#ccffff"/>
<text x="453.6" y="486.56" class="k" textLength="21.90" lengthAdjust="spacingAndGlyphs">45−50</text>
<rect x="438.1" y="490.06" width="12.1" height="11.16" fill="#99ffff"/>
<text x="453.6" y="497.97" class="k" textLength="21.90" lengthAdjust="spacingAndGlyphs">40−45</text>
<rect x="438.1" y="501.48" width="12.1" height="11.16" fill="#00ffff"/>
<text x="453.6" y="509.39" class="k" textLength="21.90" lengthAdjust="spacingAndGlyphs">35−40</text>
<rect x="438.1" y="512.89" width="12.1" height="11.16" fill="#33cccc"/>
<text x="453.6" y="520.80" class="k" textLength="21.90" lengthAdjust="spacingAndGlyphs">30−35</text>
<rect x="438.1" y="524.31" width="12.1" height="11.16" fill="#0099cc"/>
<text x="453.6" y="532.22" class="k" textLength="21.90" lengthAdjust="spacingAndGlyphs">25−30</text>
<rect x="438.1" y="535.73" width="12.1" height="11.16" fill="#006699"/>
<text x="453.6" y="543.63" class="k" textLength="21.90" lengthAdjust="spacingAndGlyphs">20−25</text>
<rect x="438.1" y="547.14" width="12.1" height="11.16" fill="#0066ff"/>
<text x="453.6" y="555.05" class="k" textLength="21.90" lengthAdjust="spacingAndGlyphs">15−20</text>
<rect x="438.1" y="558.55" width="12.1" height="11.16" fill="#0033ff"/>
<text x="453.6" y="566.46" class="k" textLength="21.90" lengthAdjust="spacingAndGlyphs">10−15</text>
<rect x="438.1" y="569.97" width="12.1" height="11.16" fill="#0000ff"/>
<text x="453.6" y="577.88" class="k" textLength="17.57" lengthAdjust="spacingAndGlyphs">5−10</text>
<rect x="438.1" y="581.38" width="12.1" height="11.16" fill="#000099"/>
<text x="453.6" y="589.29" class="k" textLength="13.23" lengthAdjust="spacingAndGlyphs">0−5</text>
<text x="437.9" y="361" class="k">%</text>
<text x="8.2" y="19.9" class="p">A</text>
<text x="11.6" y="336.7" class="p">B</text>
<rect x="0.6" y="0.6" width="518.6" height="619.6" fill="none" stroke="#000" stroke-width="1.3"/>
</svg>
</body></html>
